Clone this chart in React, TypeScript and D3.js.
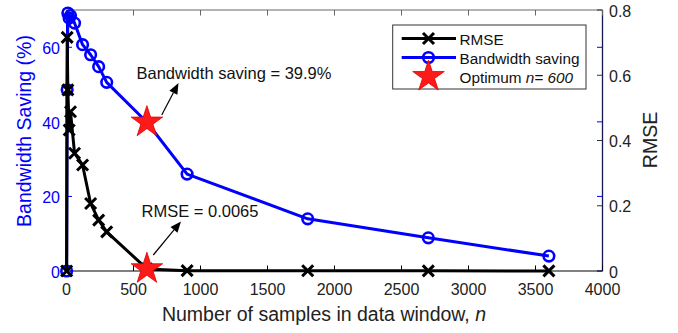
import React from "react";
import * as d3 from "d3";

const windowSizes = [1, 5, 10, 20, 30, 60, 120, 180, 240, 300, 600, 900, 1800, 2700, 3600];
const rmseValues = [0, 0.716, 0.555, 0.432, 0.488, 0.361, 0.325, 0.207, 0.156, 0.12, 0.0065, 0.001, 0.0008, 0.0005, 0.0003];
const bandwidthSaving = [0, 48.6, 69.2, 67.8, 68.5, 66.5, 60.7, 58.0, 54.8, 50.6, 39.9, 26.0, 14.0, 8.9, 4.0];
const xTicks = [0, 500, 1000, 1500, 2000, 2500, 3000, 3500, 4000];
const leftTicks = [0, 20, 40, 60];
const rightTicks = [0, 0.2, 0.4, 0.6, 0.8];
const optimumN = 600;
const optimumSaving = 39.9;
const optimumRmse = 0.0065;

const FONT = "'Liberation Sans', Arial, Helvetica, sans-serif";
const BLUE = "#0000ff";

export default function App() {
  const W = 678, H = 333;
  const L = 66.5, R = 602.5, T = 10, B = 271;
  const x = d3.scaleLinear().domain([0, 4000]).range([L, R]);
  const yL = d3.scaleLinear().domain([0, 70]).range([B, T]);
  const yR = d3.scaleLinear().domain([0, 0.8]).range([B, T]);

  const blueLine = d3.line<number>().x((_, i) => x(windowSizes[i])).y((d) => yL(d))(bandwidthSaving) || "";
  const blackLine = d3.line<number>().x((_, i) => x(windowSizes[i])).y((d) => yR(d))(rmseValues) || "";

  const starR = 16.6;
  const starPath = d3.symbol().type(d3.symbolStar).size((starR * starR) / 0.8908130915292852)() || "";
  const xm = 5.5;
  const xMarker = `M${-xm},${-xm}L${xm},${xm}M${-xm},${xm}L${xm},${-xm}`;
  const tick = 5.5;

  const arrow = (x1: number, y1: number, x2: number, y2: number) => {
    const a = Math.atan2(y2 - y1, x2 - x1);
    const hl = 11, hw = 4.5;
    const bx = x2 - hl * Math.cos(a), by = y2 - hl * Math.sin(a);
    const px = -Math.sin(a) * hw, py = Math.cos(a) * hw;
    return (
      <g>
        <line x1={x1} y1={y1} x2={bx} y2={by} stroke="#000" strokeWidth={1.2} />
        <path d={`M${x2},${y2}L${bx + px},${by + py}L${bx - px},${by - py}Z`} fill="#000" />
      </g>
    );
  };

  return (
    <svg width={W} height={H} style={{ position: "absolute", left: 0, top: 0, background: "#fff" }} fontFamily={FONT}>
      <rect x={0} y={0} width={W} height={H} fill="#fff" />
      <line x1={L} y1={T} x2={R} y2={T} stroke="#666" strokeWidth={1} />
      <line x1={L} y1={B} x2={R} y2={B} stroke="#000" strokeWidth={1} />
      <line x1={L} y1={T} x2={L} y2={B} stroke={BLUE} strokeWidth={1} />
      <line x1={R} y1={T} x2={R} y2={B} stroke="#16164f" strokeWidth={1.3} />
      {xTicks.map((t) => (
        <g key={"xt" + t}>
          <line x1={x(t)} y1={B} x2={x(t)} y2={B - tick} stroke="#000" />
          <line x1={x(t)} y1={T} x2={x(t)} y2={T + tick} stroke="#666" />
          <text x={x(t)} y={294.5} fontSize={16} textAnchor="middle" fill="#222">{t}</text>
        </g>
      ))}
      {leftTicks.map((t) => (
        <g key={"lt" + t}>
          <line x1={L} y1={yL(t)} x2={L + tick} y2={yL(t)} stroke={BLUE} />
          <line x1={R} y1={yL(t)} x2={R - tick} y2={yL(t)} stroke={BLUE} />
          <text x={60} y={yL(t) + 7} fontSize={16} textAnchor="end" fill={BLUE}>{t}</text>
        </g>
      ))}
      {rightTicks.map((t) => (
        <g key={"rt" + t}>
          <line x1={R} y1={yR(t)} x2={R - tick} y2={yR(t)} stroke="#333" />
          <text x={609} y={yR(t) + 6.5} fontSize={16} textAnchor="start" fill="#222">{t}</text>
        </g>
      ))}
      <text x={324} y={321} fontSize={19.5} textAnchor="middle" fill="#222">
        Number of samples in data window, <tspan fontStyle="italic">n</tspan>
      </text>
      <text transform={`translate(31,131) rotate(-90)`} fontSize={19.5} textAnchor="middle" fill={BLUE}>Bandwidth Saving (%)</text>
      <text transform={`translate(657,140) rotate(-90)`} fontSize={19.5} textAnchor="middle" fill="#222">RMSE</text>

      <path d={blueLine} fill="none" stroke={BLUE} strokeWidth={3} strokeLinejoin="round" />
      {bandwidthSaving.map((v, i) => (
        <circle key={"c" + i} cx={x(windowSizes[i])} cy={yL(v)} r={5.3} fill="none" stroke={BLUE} strokeWidth={2.6} />
      ))}
      <path d={blackLine} fill="none" stroke="#000" strokeWidth={3} strokeLinejoin="round" />
      {rmseValues.map((v, i) => (
        <path key={"x" + i} d={xMarker} transform={`translate(${x(windowSizes[i])},${yR(v)})`} stroke="#000" strokeWidth={3} fill="none" />
      ))}
      <path d={starPath} transform={`translate(${x(optimumN)},${yL(optimumSaving)})`} fill="#ff1a1a" stroke="#e00000" strokeWidth={0.8} />
      <path d={starPath} transform={`translate(${x(optimumN)},${yR(optimumRmse)})`} fill="#ff1a1a" stroke="#e00000" strokeWidth={0.8} />

      {arrow(161.7, 115, 178.5, 83)}
      <text x={136.5} y={79} fontSize={16.5} fill="#111">Bandwidth saving = {optimumSaving}%</text>
      {arrow(153.3, 255, 181, 221.5)}
      <text x={141.5} y={217} fontSize={16.5} fill="#111">RMSE = {optimumRmse}</text>

      <rect x={392.7} y={25} width={193.3} height={64} fill="#fff" stroke="#333" strokeWidth={1} />
      <line x1={401.7} y1={38.5} x2={456} y2={38.5} stroke="#000" strokeWidth={3} />
      <path d={xMarker} transform={`translate(428.5,38.5)`} stroke="#000" strokeWidth={3} fill="none" />
      <text x={459.5} y={45} fontSize={15.3} fill="#111">RMSE</text>
      <line x1={401.7} y1={57.5} x2={456} y2={57.5} stroke={BLUE} strokeWidth={3} />
      <circle cx={428.5} cy={57.5} r={5.3} fill="none" stroke={BLUE} strokeWidth={2.6} />
      <text x={459.5} y={63.5} fontSize={15.3} fill="#111">Bandwidth saving</text>
      <path d={starPath} transform={`translate(428.5,76.6)`} fill="#ff1a1a" stroke="#e00000" strokeWidth={0.8} />
      <text x={459.5} y={82.5} fontSize={15.3} fill="#111">
        Optimum <tspan fontStyle="italic">n= {optimumN}</tspan>
      </text>
    </svg>
  );
}
